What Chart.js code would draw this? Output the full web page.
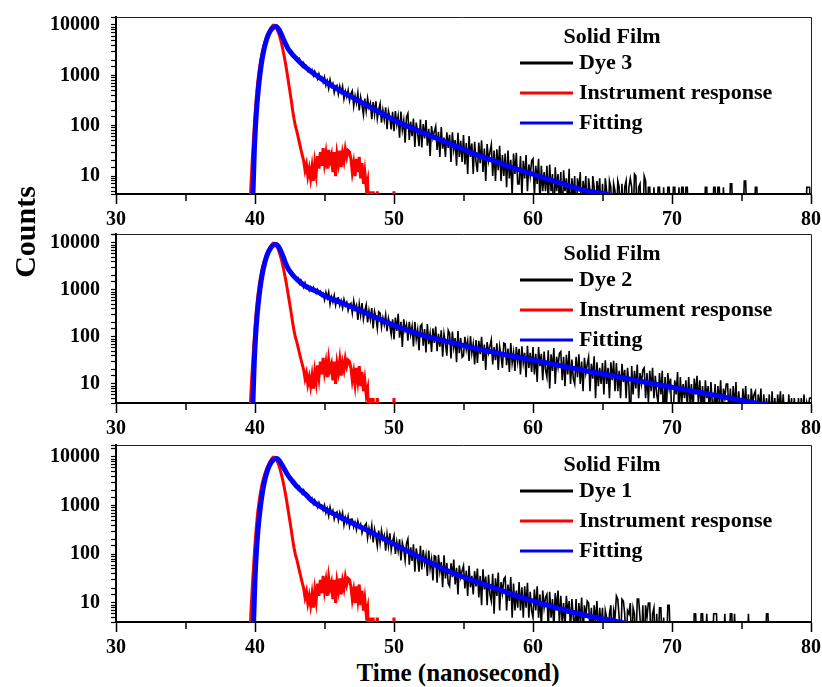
<!DOCTYPE html>
<html>
<head>
<meta charset="utf-8">
<title>Solid film decay</title>
<script src="https://cdn.jsdelivr.net/npm/chart.js@4"></script>
<style>
  body { margin: 0; background: #fff; }
  #page { position: relative; width: 822px; height: 687px; font-family: "Liberation Serif", "Times New Roman", serif; font-weight: bold; color: #000; }
  #page canvas { position: absolute; left: 0; }
  #ylabel { position: absolute; left: -75px; top: 214px; width: 200px; height: 36px; line-height: 36px; text-align: center; font-size: 30px; transform: rotate(-90deg); }
  #xlabel { position: absolute; left: 258px; top: 658px; width: 400px; height: 30px; line-height: 30px; text-align: center; font-size: 25px; }
</style>
</head>
<body>
<div id="page">
  <canvas id="panel1" width="822" height="222" style="top:7px"></canvas>
  <canvas id="panel2" width="822" height="214" style="top:224px"></canvas>
  <canvas id="panel3" width="822" height="222" style="top:435px"></canvas>
  <div id="ylabel">Counts</div>
  <div id="xlabel">Time (nanosecond)</div>
</div>
<script>
// histogram channels (ns), 10 channels per row below
var channelStart = 39.0;
var channelWidth = 0.1;
var irfStart = 39.5;
var irfWidth = 0.1;

var timeTicks = [30, 40, 50, 60, 70, 80];
var countTicks = [10, 100, 1000, 10000];

// decay counts (empty channels kept at 1 so the log axis can take them)
var dye3Counts = [
	1, 1, 1, 1, 1, 1, 1, 1, 5, 15,
	65, 160, 420, 740, 1300, 2050, 2800, 3850, 4850, 5750,
	6800, 7500, 8400, 8800, 9400, 9600, 9100, 8300, 7300, 6600,
	5650, 4850, 4300, 3650, 3400, 2980, 2900, 2520, 2480, 2200,
	2310, 1880, 2120, 1750, 1490, 1760, 1420, 1540, 1220, 1370,
	1130, 1290, 990, 1210, 1020, 845, 1070, 855, 925, 725,
	925, 630, 780, 545, 820, 600, 695, 450, 590, 635,
	425, 610, 460, 605, 340, 480, 370, 505, 315, 435,
	495, 245, 390, 280, 445, 200, 370, 257, 165, 347,
	194, 350, 229, 280, 135, 293, 168, 305, 137, 209,
	275, 115, 205, 132, 232, 85, 195, 145, 84, 189,
	78, 195, 105, 155, 58, 190, 82, 127, 46, 150,
	175, 52, 120, 62, 139, 38, 115, 72, 39, 133,
	37, 108, 56, 129, 40, 87, 25, 98, 57, 76,
	97, 33, 76, 24, 94, 35, 58, 24, 74, 36,
	66, 19, 74, 33, 52, 16, 72, 24, 50, 19,
	65, 17, 45, 11, 62, 24, 44, 11, 48, 19,
	12, 46, 18, 51, 12, 35, 8, 43, 20, 30,
	42, 10, 32, 8, 34, 13, 40, 8, 26, 10,
	28, 6, 32, 9, 21, 4, 28, 11, 29, 7,
	7, 25, 4, 20, 9, 26, 5, 17, 10, 20,
	22, 4, 16, 7, 22, 3, 16, 5, 12, 5,
	16, 3, 17, 5, 11, 1, 15, 5, 11, 3,
	12, 1, 13, 5, 9, 3, 14, 1, 9, 4,
	10, 1, 9, 5, 12, 1, 8, 4, 10, 1,
	9, 5, 1, 10, 6, 1, 8, 4, 9, 1,
	7, 1, 9, 5, 1, 8, 6, 1, 7, 5,
	1, 8, 6, 1, 7, 1, 6, 8, 1, 6,
	9, 6, 1, 11, 10, 1, 6, 7, 1, 1,
	10, 8, 1, 6, 6, 1, 1, 6, 1, 1,
	6, 6, 1, 1, 6, 1, 1, 6, 6, 1,
	1, 6, 6, 1, 1, 6, 1, 6, 6, 1,
	6, 6, 1, 1, 1, 1, 1, 1, 1, 1,
	1, 1, 1, 1, 6, 6, 1, 1, 1, 1,
	6, 6, 1, 6, 6, 1, 1, 6, 1, 1,
	1, 1, 7, 7, 1, 1, 1, 1, 1, 1,
	1, 1, 8, 8, 1, 1, 1, 1, 1, 1,
	6, 6, 1, 1, 1, 1, 1, 1, 1, 1,
	1, 1, 1, 1, 1, 1, 1, 1, 1, 1,
	1, 1, 1, 1, 1, 1, 1, 1, 1, 1,
	1, 1, 1, 1, 1, 1, 1, 6, 6, 6,
	1
];
var dye2Counts = [
	1, 1, 1, 1, 1, 1, 1, 1, 5, 15,
	65, 160, 420, 740, 1300, 2050, 2800, 3850, 4850, 5750,
	6800, 7500, 8400, 8800, 9400, 9600, 9100, 8200, 7200, 6250,
	5400, 4300, 3850, 3140, 2880, 2430, 2420, 2050, 2030, 1770,
	1600, 1790, 1360, 1630, 1380, 1130, 1415, 1125, 1220, 975,
	1165, 980, 1140, 970, 845, 1020, 845, 935, 745, 840,
	615, 890, 675, 900, 500, 715, 555, 770, 475, 665,
	680, 468, 590, 416, 630, 467, 550, 363, 475, 520,
	320, 585, 385, 473, 230, 502, 290, 528, 240, 365,
	483, 203, 364, 235, 413, 152, 348, 260, 151, 342,
	320, 161, 256, 184, 294, 133, 248, 173, 112, 237,
	89, 258, 134, 312, 96, 211, 61, 237, 138, 183,
	83, 209, 112, 168, 63, 209, 90, 142, 52, 170,
	187, 65, 148, 47, 189, 70, 118, 48, 152, 75,
	167, 50, 117, 62, 138, 38, 116, 74, 40, 138,
	117, 35, 131, 59, 95, 29, 133, 45, 95, 37,
	40, 101, 54, 82, 31, 104, 45, 71, 26, 86,
	28, 83, 43, 101, 31, 69, 20, 78, 46, 63,
	87, 26, 61, 32, 73, 20, 62, 39, 22, 74,
	71, 25, 57, 18, 74, 28, 47, 19, 61, 30,
	56, 16, 63, 28, 46, 14, 65, 22, 46, 18,
	61, 16, 44, 11, 61, 24, 44, 12, 49, 20,
	14, 52, 8, 43, 19, 58, 10, 38, 23, 45,
	49, 12, 38, 9, 42, 16, 50, 10, 33, 13,
	10, 38, 14, 43, 10, 30, 7, 36, 17, 26,
	37, 7, 27, 13, 39, 5, 29, 9, 22, 10,
	28, 6, 32, 10, 22, 5, 29, 12, 31, 7,
	28, 7, 19, 5, 27, 11, 20, 5, 22, 9,
	1, 24, 6, 19, 8, 26, 5, 17, 10, 20,
	22, 5, 17, 4, 19, 7, 22, 5, 15, 6,
	4, 17, 6, 19, 1, 14, 3, 17, 8, 13,
	1, 3, 12, 6, 18, 2, 14, 4, 10, 5,
	12, 3, 14, 4, 10, 2, 13, 6, 15, 4,
	12, 3, 9, 2, 12, 5, 9, 2, 11, 4,
	3, 10, 2, 9, 4, 12, 2, 8, 5, 10,
	10, 2, 8, 2, 9, 3, 11, 2, 7, 3,
	2, 8, 3, 9, 2, 6, 1, 8, 4, 6,
	7, 1, 6, 3, 8, 1, 6, 2, 5, 2,
	6, 1, 7, 2, 5, 1, 6, 3, 7, 2,
	6, 2, 4, 1, 6, 2, 5, 1, 5, 2,
	1, 5, 1, 5, 2, 6, 1, 4, 3, 5,
	5
];
var dye1Counts = [
	1, 1, 1, 1, 1, 1, 1, 1, 1, 6,
	32, 105, 295, 545, 1030, 1580, 2450, 3250, 4400, 5250,
	6400, 7100, 8100, 8500, 9200, 9500, 9300, 8600, 8100, 7100,
	6580, 5530, 5250, 4460, 4220, 3600, 3620, 3070, 3040, 2620,
	2730, 2210, 2490, 2060, 1755, 2070, 1680, 1800, 1410, 1545,
	1250, 1420, 1090, 1320, 1120, 925, 1160, 930, 1020, 805,
	1030, 705, 880, 615, 930, 685, 800, 525, 680, 740,
	500, 715, 540, 715, 400, 570, 440, 605, 375, 525,
	528, 362, 453, 319, 482, 355, 416, 274, 357, 388,
	430, 216, 343, 245, 390, 176, 326, 227, 146, 307,
	171, 308, 202, 247, 119, 259, 149, 270, 122, 185,
	243, 102, 181, 117, 204, 75, 172, 127, 74, 167,
	207, 61, 139, 73, 160, 44, 132, 82, 44, 149,
	49, 123, 65, 97, 36, 119, 51, 79, 29, 93,
	90, 26, 98, 44, 69, 21, 95, 32, 66, 25,
	22, 65, 34, 78, 24, 53, 15, 59, 34, 46,
	58, 20, 46, 14, 58, 21, 36, 15, 45, 22,
	51, 13, 36, 9, 49, 19, 35, 9, 38, 15,
	11, 40, 6, 32, 14, 42, 7, 27, 16, 31,
	34, 7, 24, 11, 34, 5, 25, 7, 18, 8,
	27, 7, 21, 5, 22, 8, 26, 5, 17, 7,
	5, 19, 7, 22, 5, 15, 3, 18, 8, 13,
	15, 3, 17, 5, 12, 3, 16, 7, 18, 4,
	14, 4, 10, 3, 14, 6, 11, 3, 12, 5,
	3, 12, 2, 10, 4, 13, 2, 9, 5, 11,
	10, 3, 8, 2, 9, 4, 11, 2, 8, 3,
	8, 1, 7, 5, 1, 6, 9, 1, 7, 5,
	14, 12, 5, 1, 12, 11, 6, 1, 7, 6,
	10, 1, 8, 6, 1, 12, 12, 5, 1, 9,
	1, 9, 5, 10, 10, 1, 6, 8, 1, 6,
	1, 8, 8, 1, 5, 1, 1, 9, 9, 1,
	1, 1, 1, 1, 1, 1, 1, 1, 1, 1,
	1, 1, 1, 1, 1, 1, 6, 6, 1, 1,
	1, 6, 6, 1, 1, 6, 1, 1, 1, 1,
	6, 6, 6, 1, 1, 1, 1, 1, 6, 1,
	1, 1, 6, 6, 1, 6, 1, 1, 1, 1,
	1, 1, 1, 1, 1, 6, 1, 1, 1, 1,
	1, 1, 1, 1, 1, 1, 1, 1, 6, 6,
	1, 1, 1, 1, 1, 1, 1, 1, 1, 1,
	1, 1, 1, 1, 1, 1, 1, 1, 1, 1,
	1, 1, 1, 1, 1, 1, 1, 1, 1, 1,
	1
];

// instrument response (same lamp profile for all three films)
var irfCounts = [
	1, 1, 6, 20, 60, 160, 380, 750, 1250, 1900,
	2700, 3500, 4400, 5300, 6300, 7300, 8300, 9200, 9900, 9900,
	9200, 8100, 6900, 5600, 4400, 3300, 2400, 1700, 1150, 760,
	500, 330, 210, 140, 100, 80, 60, 45, 34, 26,
	20, 13, 17, 10, 14, 9, 15, 8, 18, 11,
	25, 14, 30, 16, 36, 18, 28, 14, 33, 20,
	26, 12, 30, 10, 27, 18, 32, 15, 28, 20,
	34, 24, 32, 30, 22, 12, 18, 10, 22, 12,
	24, 9, 18, 7, 12, 6, 8, 1, 5, 1,
	5, 1, 1, 5, 1, 1, 1, 1, 1, 1,
	1, 1, 1, 1, 1, 5, 1, 1
];

// fitted decays
var fitTime3 = [39.85, 39.95, 40.05, 40.15, 40.25, 40.35, 40.5, 40.65, 40.8, 40.95, 41.1, 41.25, 41.4, 41.5, 41.6, 41.75, 41.9,
	42.05, 42.2, 42.4, 42.6, 42.8, 43.0, 43.3, 43.6, 44.0, 44.5, 45, 46, 47, 48, 49, 50, 51, 52, 53, 54, 55, 56, 57, 58, 59, 60, 61, 62, 63, 64, 65, 66];
var fitCounts3 = [4, 30, 110, 280, 560, 1000, 2000, 3300, 4800, 6300, 7600, 8600, 9200, 9300, 9000, 7900, 6500,
	5200, 4200, 3300, 2800, 2400, 2100, 1750, 1480, 1200, 960, 770, 520, 365, 258, 183, 130, 97, 74, 57, 44, 34, 26, 21, 16.5, 13.3, 10.9, 8.8, 7.2, 5.9, 5.0, 4.5, 3.9];

var fitTime2 = [39.85, 39.95, 40.05, 40.15, 40.25, 40.35, 40.5, 40.65, 40.8, 40.95, 41.1, 41.25, 41.4, 41.5, 41.6, 41.75, 41.9,
	42.05, 42.2, 42.4, 42.6, 42.8, 43.0, 43.3, 43.6, 44.0, 44.5, 45, 46, 47, 48, 49, 50, 51, 52, 54, 56, 58, 60, 62, 64, 66, 68, 70, 72, 74, 76, 78];
var fitCounts2 = [4, 30, 110, 280, 560, 1000, 2000, 3300, 4800, 6300, 7600, 8600, 9200, 9300, 9000, 7800, 6300,
	4900, 3700, 2800, 2300, 1950, 1700, 1420, 1220, 1060, 910, 750, 565, 428, 322, 237, 177, 138, 110, 78, 56, 42, 32, 24.5, 18.5, 14.5, 11, 8.5, 6.6, 5.1, 3.95, 3.1];

var fitTime1 = [39.9, 40.0, 40.1, 40.2, 40.3, 40.4, 40.55, 40.7, 40.85, 41.0, 41.15, 41.3, 41.45, 41.55, 41.65, 41.8, 41.95,
	42.1, 42.25, 42.45, 42.65, 42.85, 43.05, 43.35, 43.65, 44.0, 44.5, 45, 46, 47, 48, 49, 50, 51, 52, 53, 54, 55, 56, 57, 58, 59, 60, 61, 62, 63, 64, 65, 66, 67];
var fitCounts1 = [4, 30, 110, 280, 560, 1000, 2000, 3300, 4800, 6300, 7600, 8600, 9200, 9300, 9000, 8000, 6800,
	5700, 4800, 3900, 3300, 2800, 2400, 2000, 1700, 1330, 1050, 860, 608, 440, 318, 228, 162, 115, 82, 60, 44, 34, 27, 21.4, 17, 13.5, 11, 9, 7.5, 6.3, 5.4, 4.7, 4.2, 3.7];

var serif = '"Liberation Serif", "Times New Roman", serif';

function channelPoints(start, width, counts) {
	return counts.map(function(c, i) { return { x: +(start + i * width).toFixed(2), y: c }; });
}

function pairPoints(times, counts) {
	return times.map(function(t, i) { return { x: t, y: counts[i] }; });
}

// frame edges, half-way ticks on the time axis and the boxed-in legend
var panelDecor = {
	id: 'panelDecor',
	afterDraw: function(chart, args, opts) {
		var ctx = chart.ctx;
		var area = chart.chartArea;
		var x = chart.scales.x;
		ctx.save();

		ctx.strokeStyle = '#222';
		ctx.lineWidth = 1;
		ctx.beginPath();
		ctx.moveTo(area.left, area.top + 0.5);
		ctx.lineTo(area.right + 0.5, area.top + 0.5);
		ctx.lineTo(area.right + 0.5, area.bottom);
		ctx.stroke();

		ctx.strokeStyle = '#000';
		ctx.lineWidth = 1.5;
		for (var i = 0; i < timeTicks.length - 1; i++) {
			var px = Math.round(x.getPixelForValue((timeTicks[i] + timeTicks[i + 1]) / 2));
			ctx.beginPath();
			ctx.moveTo(px, area.bottom);
			ctx.lineTo(px, area.bottom + 7);
			ctx.stroke();
		}

		var lx = area.left + 404;
		ctx.font = 'bold 22px ' + serif;
		ctx.fillStyle = '#000';
		ctx.textBaseline = 'middle';
		ctx.textAlign = 'center';
		ctx.fillText(opts.title, lx + 92, area.top + 20);
		ctx.textAlign = 'left';
		chart.data.datasets.forEach(function(ds, i) {
			var ly = area.top + 46 + i * 30;
			ctx.strokeStyle = ds.borderColor;
			ctx.lineWidth = 3;
			ctx.beginPath();
			ctx.moveTo(lx, ly);
			ctx.lineTo(lx + 53, ly);
			ctx.stroke();
			ctx.fillText(ds.label, lx + 59, ly);
		});
		ctx.restore();
	}
};

function drawPanel(id, name, counts, fitTime, fitCounts, yMin, yMax) {
	var ctx = document.getElementById(id).getContext('2d');
	return new Chart(ctx, {
		type: 'line',
		data: {
			datasets: [{
				label: name,
				data: channelPoints(channelStart, channelWidth, counts),
				borderColor: '#000000',
				borderWidth: 1.6,
				order: 2
			}, {
				label: 'Instrument response',
				data: channelPoints(irfStart, irfWidth, irfCounts),
				borderColor: '#ff0000',
				borderWidth: 3,
				order: 1
			}, {
				label: 'Fitting',
				data: pairPoints(fitTime, fitCounts),
				borderColor: '#0000ff',
				borderWidth: 5,
				cubicInterpolationMode: 'monotone',
				order: 0
			}]
		},
		options: {
			responsive: false,
			animation: false,
			devicePixelRatio: 1,
			layout: { padding: { top: 10, right: 11, left: 0, bottom: 0 } },
			elements: { point: { radius: 0 }, line: { tension: 0 } },
			plugins: {
				legend: { display: false },
				tooltip: { enabled: false },
				panelDecor: { title: 'Solid Film' }
			},
			scales: {
				x: {
					type: 'linear',
					min: timeTicks[0],
					max: timeTicks[timeTicks.length - 1],
					afterFit: function(s) { s.height = 35; s.paddingLeft = 0; s.paddingRight = 0; },
					border: { color: '#000', width: 2 },
					grid: { drawOnChartArea: false, tickLength: 10, tickColor: '#000', tickWidth: 1.5 },
					ticks: {
						stepSize: 10,
						autoSkip: false,
						maxRotation: 0,
						padding: 4,
						color: '#000',
						font: { family: serif, size: 20, weight: 'bold' }
					}
				},
				y: {
					type: 'logarithmic',
					min: yMin,
					max: yMax,
					afterFit: function(s) { s.width = 116; s.paddingTop = 0; s.paddingBottom = 0; },
					border: { color: '#000', width: 2 },
					grid: { drawOnChartArea: false, tickLength: 5, tickColor: '#000', tickWidth: 1.2 },
					ticks: {
						autoSkip: false,
						padding: 11,
						color: '#000',
						font: { family: serif, size: 20, weight: 'bold' },
						callback: function(v) { return countTicks.indexOf(v) >= 0 ? String(v) : ''; }
					}
				}
			}
		},
		plugins: [panelDecor]
	});
}

drawPanel('panel1', 'Dye 3', dye3Counts, fitTime3, fitCounts3, 4.4, 14400);
drawPanel('panel2', 'Dye 2', dye2Counts, fitTime2, fitCounts2, 3.94, 15500);
drawPanel('panel3', 'Dye 1', dye1Counts, fitTime1, fitCounts1, 4.07, 17600);
</script>
</body>
</html>
